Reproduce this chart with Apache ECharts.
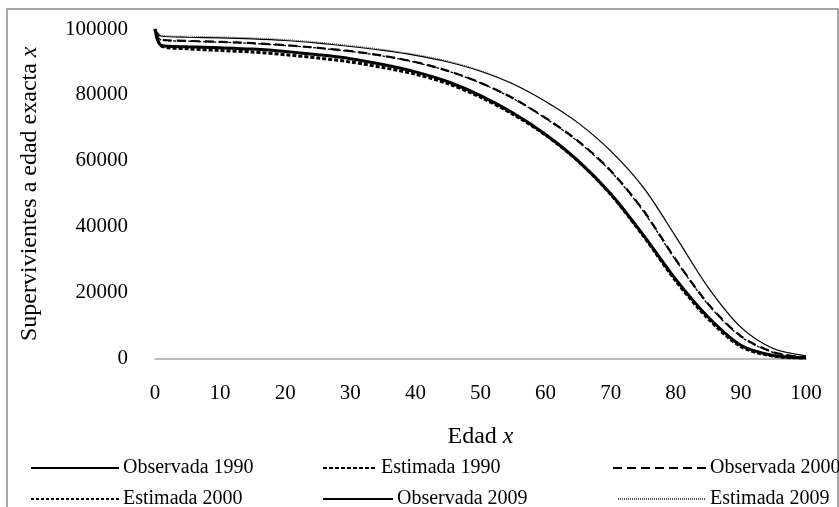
<!DOCTYPE html>
<html>
<head>
<meta charset="utf-8">
<script src="https://cdn.jsdelivr.net/npm/echarts@6/dist/echarts.min.js"></script>
<style>html,body{margin:0;padding:0;background:#fff;}#c{width:839px;height:507px;}</style>
</head>
<body>
<div id="c"></div>
<script>
const ages = [0, 1, 5, 10, 15, 20, 25, 30, 35, 40, 45, 50, 55, 60, 65, 70, 75, 80, 85, 90, 95, 100];
const obs1990 = [100000, 95000, 94600, 94300, 93900, 93200, 92200, 91000, 89200, 87000, 84000, 79800, 74500, 68000, 60000, 50000, 37500, 24000, 12500, 4000, 900, 200];
const est1990 = [100000, 94800, 94000, 93500, 93000, 92200, 91200, 90000, 88300, 86300, 83400, 79300, 74100, 67800, 59900, 49800, 37200, 23500, 12000, 3600, 700, 150];
const obs2000 = [100000, 96800, 96400, 96100, 95700, 95100, 94300, 93300, 91900, 90000, 87300, 83700, 79000, 73000, 66000, 57000, 45000, 30000, 16500, 6800, 1900, 300];
const est2000 = [100000, 96600, 96300, 96000, 95600, 95000, 94200, 93200, 91800, 89900, 87200, 83600, 78900, 72900, 65800, 56800, 44700, 29800, 16300, 6600, 1800, 300];
const obs2009 = [100000, 97800, 97500, 97300, 97000, 96500, 95700, 94700, 93500, 92000, 90000, 87200, 83300, 78000, 71500, 63000, 52000, 37000, 21500, 9500, 3000, 800];
const est2009 = [100000, 98100, 97800, 97600, 97300, 96800, 96000, 95000, 93800, 92300, 90300, 87400, 83400, 78000, 71400, 62800, 51700, 36700, 21300, 9300, 2900, 800];
const seriesNames = ['Observada 1990', 'Estimada 1990', 'Observada 2000', 'Estimada 2000', 'Observada 2009', 'Estimada 2009'];
const yTicks = [0, 20000, 40000, 60000, 80000, 100000];
const xTicks = [0, 10, 20, 30, 40, 50, 60, 70, 80, 90, 100];

const FONT = '"Liberation Serif", "Times New Roman", serif';
const pair = arr => ages.map((a, i) => [a, arr[i]]);
const styles = [
  {width: 3, type: 'solid'},
  {width: 3, type: [4, 2]},
  {width: 2.2, type: [9, 5]},
  {width: 1.3, type: [3, 2]},
  {width: 1.1, type: 'solid'},
  {width: 1, type: [1, 1], color: '#555'}
];
const values = [obs1990, est1990, obs2000, est2000, obs2009, est2009];
const series = values.map((v, i) => ({
  name: seriesNames[i],
  type: 'line',
  data: pair(v),
  symbol: 'none',
  smooth: 0.3,
  lineStyle: Object.assign({color: '#000'}, styles[i]),
  itemStyle: {color: styles[i].color || '#000'},
  z: 10 - i
}));

const legendPos = [
  {left: 30, top: 458, w: 88},
  {left: 322, top: 458, w: 54},
  {left: 612, top: 458, w: 93},
  {left: 30, top: 489, w: 88},
  {left: 322, top: 489, w: 70},
  {left: 617, top: 489, w: 88}
];
const legends = seriesNames.map((n, i) => ({
  data: [n],
  left: legendPos[i].left,
  top: legendPos[i].top,
  itemWidth: legendPos[i].w,
  itemHeight: 12,
  padding: 0,
  itemGap: 0,
  selectedMode: false,
  itemStyle: {opacity: 0},
  textStyle: {fontFamily: FONT, fontSize: 20, color: '#000', padding: [0, 0, 0, -1]}
}));

const titleStyle = {fontFamily: FONT, fontSize: 24, color: '#000', rich: {i: {fontFamily: FONT, fontSize: 24, fontStyle: 'italic', color: '#000'}}};

const chart = echarts.init(document.getElementById('c'), null, {renderer: 'canvas'});
chart.setOption({
  animation: false,
  backgroundColor: '#fff',
  grid: {left: 155, right: 33, top: 29, bottom: 148.5, containLabel: false},
  graphic: [{
    type: 'rect', shape: {x: 7, y: 9, width: 831, height: 540},
    style: {fill: 'none', stroke: '#8c8c8c', lineWidth: 1.5}, silent: true, z: -1
  }],
  legend: legends,
  xAxis: {
    type: 'value', min: xTicks[0], max: xTicks[xTicks.length - 1], interval: 10,
    name: 'Edad {i|x}', nameLocation: 'middle', nameGap: 66,
    nameTextStyle: titleStyle,
    axisLine: {show: true, lineStyle: {color: '#a6a6a6', width: 1.5}},
    axisTick: {show: false},
    splitLine: {show: false},
    axisLabel: {fontFamily: FONT, fontSize: 21, color: '#000', margin: 24, formatter: v => String(v)}
  },
  yAxis: {
    type: 'value', min: yTicks[0], max: yTicks[yTicks.length - 1], interval: 20000,
    name: 'Supervivientes a edad exacta {i|x}', nameLocation: 'middle', nameGap: 113,
    nameTextStyle: titleStyle,
    axisLine: {show: false},
    axisTick: {show: false},
    splitLine: {show: false},
    axisLabel: {fontFamily: FONT, fontSize: 21, color: '#000', margin: 27, formatter: v => String(v)}
  },
  series: series
});
</script>
</body>
</html>
